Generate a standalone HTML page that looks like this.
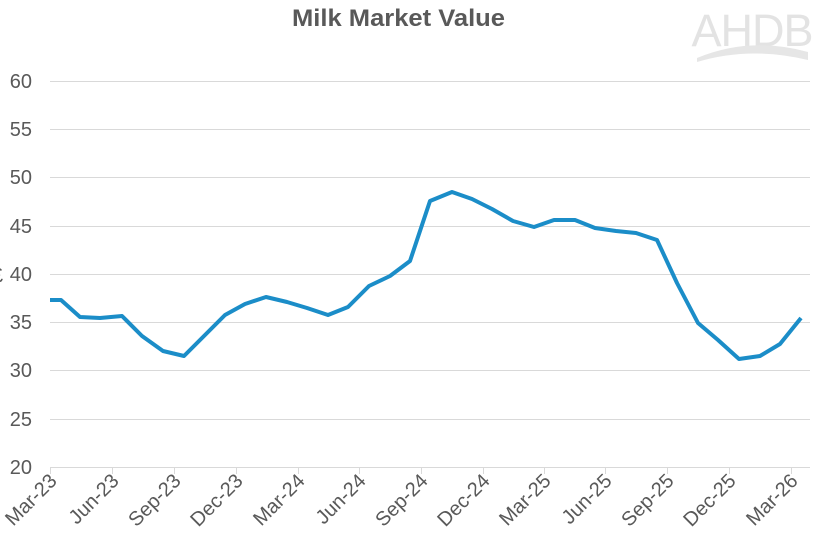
<!DOCTYPE html>
<html><head><meta charset="utf-8"><style>
body{margin:0;background:#fff;width:814px;height:559px;overflow:hidden}
svg{display:block;font-family:"Liberation Sans",Arial,sans-serif}
</style></head><body>
<svg width="814" height="559" viewBox="0 0 814 559">
<text x="292" y="26" textLength="213" lengthAdjust="spacingAndGlyphs" font-size="24" font-weight="bold" fill="#595959">Milk Market Value</text>
<text x="752" y="46" text-anchor="middle" font-size="45" fill="#e3e3e3" letter-spacing="-1">AHDB</text>
<path d="M697 58 Q750 36 808 52 L808 60 Q750 46 697 62 Z" fill="#e6e6e6"/>
<g stroke="#d9d9d9" stroke-width="1">
<line x1="50" x2="810" y1="81.5" y2="81.5"/><line x1="50" x2="810" y1="129.5" y2="129.5"/>
<line x1="50" x2="810" y1="177.5" y2="177.5"/><line x1="50" x2="810" y1="226.5" y2="226.5"/>
<line x1="50" x2="810" y1="274.5" y2="274.5"/><line x1="50" x2="810" y1="322.5" y2="322.5"/>
<line x1="50" x2="810" y1="370.5" y2="370.5"/><line x1="50" x2="810" y1="419.5" y2="419.5"/>
<line x1="50" x2="810" y1="467.5" y2="467.5"/>
</g>
<g stroke="#d9d9d9"><line x1="50.5" x2="50.5" y1="467" y2="474"/><line x1="112.5" x2="112.5" y1="467" y2="474"/><line x1="174.5" x2="174.5" y1="467" y2="474"/><line x1="236.5" x2="236.5" y1="467" y2="474"/><line x1="298.5" x2="298.5" y1="467" y2="474"/><line x1="359.5" x2="359.5" y1="467" y2="474"/><line x1="421.5" x2="421.5" y1="467" y2="474"/><line x1="483.5" x2="483.5" y1="467" y2="474"/><line x1="544.5" x2="544.5" y1="467" y2="474"/><line x1="605.5" x2="605.5" y1="467" y2="474"/><line x1="667.5" x2="667.5" y1="467" y2="474"/><line x1="729.5" x2="729.5" y1="467" y2="474"/><line x1="791.5" x2="791.5" y1="467" y2="474"/></g>
<g font-size="20" fill="#595959" text-anchor="end">
<text x="32" y="88">60</text><text x="32" y="136">55</text><text x="32" y="184">50</text><text x="32" y="233">45</text><text x="32" y="281">40</text><text x="32" y="329">35</text><text x="32" y="377">30</text><text x="32" y="426">25</text><text x="32" y="474">20</text>
</g>
<text x="-8" y="282" font-size="20" fill="#595959">£</text>
<g font-size="20" fill="#595959" text-anchor="end">
<text transform="translate(58,482) rotate(-45)">Mar-23</text>
<text transform="translate(120,482) rotate(-45)">Jun-23</text>
<text transform="translate(182,482) rotate(-45)">Sep-23</text>
<text transform="translate(244,482) rotate(-45)">Dec-23</text>
<text transform="translate(306,482) rotate(-45)">Mar-24</text>
<text transform="translate(367,482) rotate(-45)">Jun-24</text>
<text transform="translate(429,482) rotate(-45)">Sep-24</text>
<text transform="translate(491,482) rotate(-45)">Dec-24</text>
<text transform="translate(552,482) rotate(-45)">Mar-25</text>
<text transform="translate(613,482) rotate(-45)">Jun-25</text>
<text transform="translate(675,482) rotate(-45)">Sep-25</text>
<text transform="translate(737,482) rotate(-45)">Dec-25</text>
<text transform="translate(799,482) rotate(-45)">Mar-26</text>
</g>
<polyline fill="none" stroke="#1b8dc8" stroke-width="4" stroke-linejoin="round" points="50,300 61,300 80,317 100,318 122,316 142,336 163,351 184,356 204,336 225,315 245,304 266,297 287,302 307,308 328,315 348,307 369,286 390,276 410,261 430,201 452,192 472,199 492,209 513,221 534,227 554,220 575,220 595,228 616,231 636,233 657,240 677,283 698,323 718,340 739,359 760,356 780,344 801,318"/>
</svg>
</body></html>
